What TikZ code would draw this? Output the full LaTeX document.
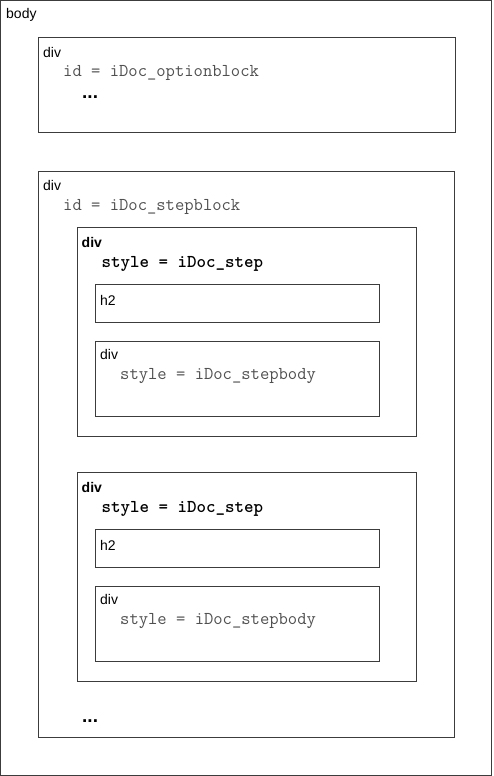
\documentclass[tikz,border=0pt]{standalone}
\usepackage{fontspec}
\setmainfont{Liberation Sans}
\usetikzlibrary{positioning}
\definecolor{boxline}{RGB}{60,60,60}
\definecolor{attrgray}{RGB}{80,80,80}

\tikzset{
  block/.style={draw=boxline, line width=1pt, anchor=north west, outer sep=0pt, inner sep=0pt},
  tagname/.style={anchor=base west, inner sep=0pt, font=\fontsize{14}{16}\selectfont},
  attr/.style={anchor=base west, inner sep=0pt, text=attrgray, font=\fontsize{18.1}{20}\selectfont\ttfamily},
  stepattr/.style={anchor=base west, inner sep=0pt, font=\fontsize{18.1}{20}\selectfont\ttfamily\bfseries},
  more/.style={anchor=base west, inner sep=0pt, font=\fontsize{19}{20}\selectfont\bfseries}
}

\begin{document}
\begin{tikzpicture}[x=1pt, y=-1pt]
  \useasboundingbox (0,0) rectangle (493,776);

  % body
  \node[block, minimum width=491pt, minimum height=775pt] (body) at (0.5,0.5) {};
  \node[tagname] (bodytag) at (6,19) {body};

  % option block
  \node[block, minimum width=417pt, minimum height=94pt] (optblock) at (38,38) {};
  \node[tagname] (opttag) at (43,57) {div};
  \node[attr] (optid) at (63,77) {id = iDoc\_optionblock};
  \node[more] (optmore) at (82,99) {...};

  % step block
  \node[block, minimum width=416pt, minimum height=566pt] (stepblock) at (38,171) {};
  \node[tagname] (steptag) at (43,190.5) {div};
  \node[attr] (stepid) at (63,210) {id = iDoc\_stepblock};

  % the two steps
  \foreach \i/\dy in {1/0, 2/245} {
    \node[block, minimum width=339pt, minimum height=209pt] (step\i) at (77,227+\dy) {};
    \node[tagname, font=\fontsize{14}{16}\selectfont\bfseries] (step\i tag) at (81.5,247+\dy) {div};
    \node[stepattr] (step\i style) at (101.5,267+\dy) {style = iDoc\_step};
    \node[block, minimum width=284pt, minimum height=38pt] (head\i) at (95,284+\dy) {};
    \node[tagname] (head\i tag) at (100,305+\dy) {h2};
    \node[block, minimum width=284pt, minimum height=75pt] (stepbody\i) at (95,341+\dy) {};
    \node[tagname] (stepbody\i tag) at (100,359+\dy) {div};
    \node[attr] (stepbody\i style) at (120,379+\dy) {style = iDoc\_stepbody};
  }

  \node[more] (stepmore) at (82,722) {...};
\end{tikzpicture}
\end{document}
